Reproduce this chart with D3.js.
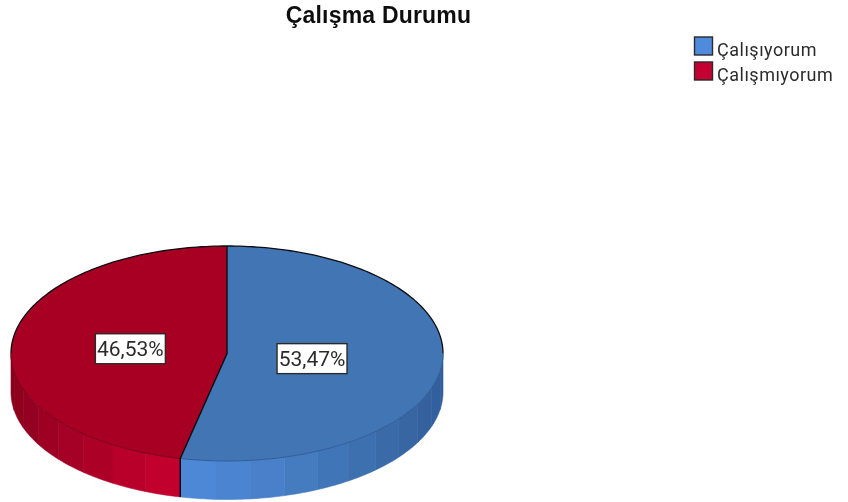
<!DOCTYPE html>
<html>
<head>
<meta charset="utf-8">
<script src="https://cdn.jsdelivr.net/npm/d3@7"></script>
<style>
  html, body { margin: 0; padding: 0; background: #fff; }
  svg { display: block; }
  text { font-family: Roboto, "Liberation Sans", sans-serif; fill: #2c2c2c; }
</style>
</head>
<body>
<svg id="chart" width="848" height="502"></svg>
<script>
const title = 'Çalışma Durumu';
const categories = ['Çalışıyorum', 'Çalışmıyorum'];
const values = [53.47, 46.53];
const valueLabels = ['53,47%', '46,53%'];
const swatchColors = ['#4f8bdb', '#c40030'];
const topColors = ['#4275b3', '#a80024'];
const lowEdgeColors = ['#2f5c98', '#7c001a'];
// wall shading, from the left end of a slice wall to its right end
const wallBlue = ['#5089da', '#4a84cf', '#4379bd', '#3b6dab', '#325e9b'];
const wallRed = ['#8a001e', '#a00024', '#ac0028', '#bc002d', '#c40030'];
const labelRadius = [0.396, 0.45];

const cx = 227, cy = 353.5, rx = 216, ry = 107.5, depth = 38.5;

const root = d3.select('#chart');

// the reference is a slightly soft raster image
root.append('defs').append('filter')
  .attr('id', 'soft')
  .attr('x', 0).attr('y', 0).attr('width', 1).attr('height', 1)
  .append('feGaussianBlur')
  .attr('stdDeviation', 0.45);

const svg = root.append('g').attr('filter', 'url(#soft)');
svg.append('rect').attr('width', 848).attr('height', 502).attr('fill', '#fff');

const x = d3.scaleLinear().domain([-1, 1]).range([cx - rx, cx + rx]);
const y = d3.scaleLinear().domain([-1, 1]).range([cy - ry, cy + ry]);

// angle 0 is at the top and goes clockwise, same as d3.arc
const px = (a, r = 1) => x(Math.sin(a) * r);
const py = (a, r = 1) => y(-Math.cos(a) * r);

const arcs = d3.pie().sort(null)(values);
const split = arcs[0].endAngle;
const line = d3.line();
const step = Math.PI / 18;

const arcPoints = (a0, a1) => {
  const n = Math.max(1, Math.ceil(Math.abs(a1 - a0) / 0.02));
  return d3.range(n + 1).map((i) => {
    const a = a0 + (a1 - a0) * i / n;
    return [px(a), py(a)];
  });
};

// side wall, only the front half of the ellipse shows
const walls = svg.append('g');
arcs.forEach((d, i) => {
  const from = Math.max(d.startAngle, Math.PI / 2);
  const to = Math.min(d.endAngle, Math.PI * 1.5);
  const shades = i === 0 ? wallBlue : wallRed;
  const color = d3.scaleLinear()
    .domain(d3.range(shades.length).map((k) => k / (shades.length - 1)))
    .range(shades);
  const tOf = i === 0
    ? d3.scaleLinear().domain([px(split), x(1)])
    : d3.scaleLinear().domain([x(-1), px(split)]);
  const count = Math.ceil((to - from) / step);
  d3.range(count).forEach((k) => {
    const a0 = from + (to - from) * k / count;
    const a1 = from + (to - from) * (k + 1) / count;
    const top = arcPoints(a0, a1);
    const bottom = top.slice().reverse().map((p) => [p[0], p[1] + depth]);
    const fill = color(tOf(px((a0 + a1) / 2)));
    walls.append('path')
      .attr('d', line(top.concat(bottom)) + 'Z')
      .attr('fill', fill)
      .attr('stroke', fill)
      .attr('stroke-width', 0.6);
  });
});

// top face
arcs.forEach((d, i) => {
  svg.append('path')
    .attr('d', line([[cx, cy]].concat(arcPoints(d.startAngle, d.endAngle))) + 'Z')
    .attr('fill', topColors[i]);
});

// outline: black on the back, the slice's dark shade on the front edge
const backArcs = [[0, Math.PI / 2], [Math.PI * 1.5, Math.PI * 2]];
const frontArcs = [[Math.PI / 2, split], [split, Math.PI * 1.5]];
backArcs.forEach((b) => {
  svg.append('path')
    .attr('d', line(arcPoints(b[0], b[1])))
    .attr('fill', 'none')
    .attr('stroke', '#0c0c12')
    .attr('stroke-width', 1.3);
});
frontArcs.forEach((f, i) => {
  svg.append('path')
    .attr('d', line(arcPoints(f[0], f[1])))
    .attr('fill', 'none')
    .attr('stroke', lowEdgeColors[i])
    .attr('stroke-width', 1);
});

// slice edges
svg.append('path')
  .attr('d', line([[px(0), py(0)], [cx, cy], [px(split), py(split)], [px(split), py(split) + depth]]))
  .attr('fill', 'none')
  .attr('stroke', '#0c0c12')
  .attr('stroke-width', 1.4);

// value labels
arcs.forEach((d, i) => {
  const mid = (d.startAngle + d.endAngle) / 2;
  const g = svg.append('g')
    .attr('transform', `translate(${px(mid, labelRadius[i])},${py(mid, labelRadius[i]) + 0.5})`);
  g.append('rect')
    .attr('x', -35).attr('y', -15)
    .attr('width', 70).attr('height', 30)
    .attr('fill', '#fff')
    .attr('stroke', '#2a2a2a')
    .attr('stroke-width', 1.4);
  g.append('text')
    .attr('text-anchor', 'middle')
    .attr('dy', '0.36em')
    .attr('font-size', 21)
    .text(valueLabels[i]);
});

// title
svg.append('text')
  .attr('x', 378.5)
  .attr('y', 23)
  .attr('text-anchor', 'middle')
  .attr('font-size', 23)
  .attr('font-weight', 'bold')
  .attr('letter-spacing', 0.2)
  .style('font-family', '"Liberation Sans", sans-serif')
  .style('fill', '#111')
  .text(title);

// legend
const legendY = d3.scalePoint().domain(categories).range([46, 71]);
categories.forEach((c, i) => {
  svg.append('rect')
    .attr('x', 694.5)
    .attr('y', legendY(c) - 9)
    .attr('width', 18)
    .attr('height', 18)
    .attr('fill', swatchColors[i])
    .attr('stroke', '#2a2a2a')
    .attr('stroke-width', 1.4);
  svg.append('text')
    .attr('x', 717)
    .attr('y', legendY(c) + 3)
    .attr('dy', '0.38em')
    .attr('font-size', 18)
    .attr('letter-spacing', 0.5)
    .text(c);
});
</script>
</body>
</html>
